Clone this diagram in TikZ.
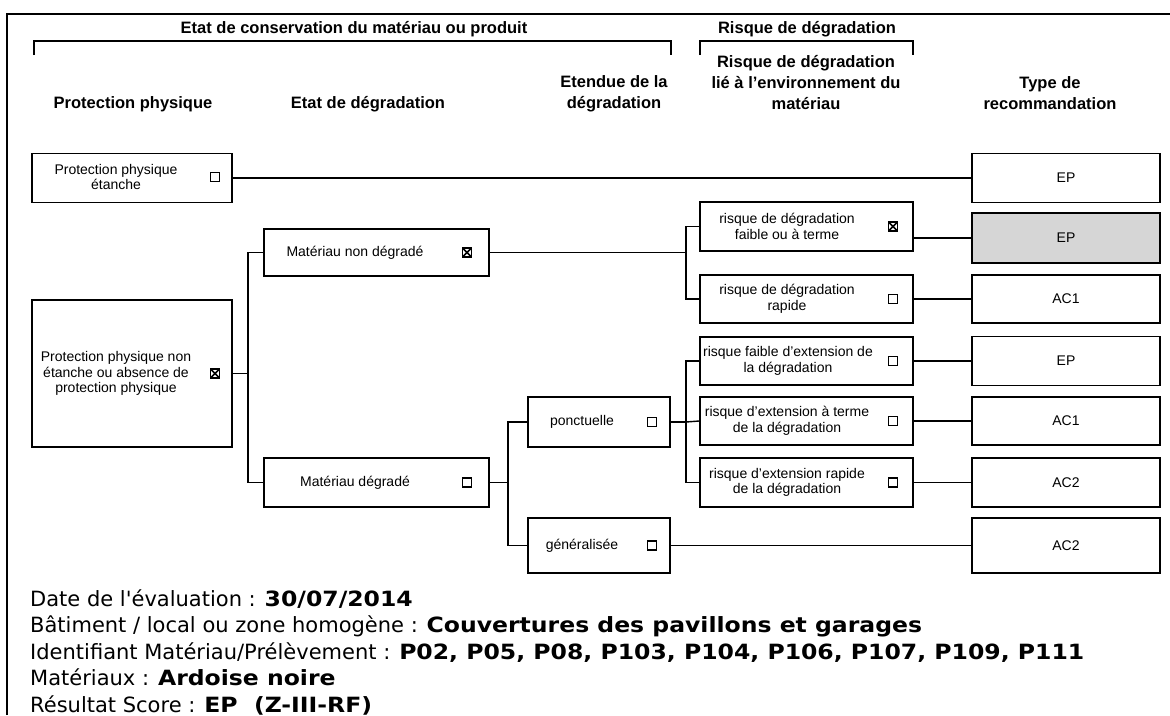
\documentclass[tikz,border=0pt]{standalone}
\usepackage{fontspec}
\setmainfont{Liberation Sans}
\newfontfamily\botfont{DejaVu Sans}[BoldFeatures={FakeStretch=1.12}]
\begin{document}
\begin{tikzpicture}[x=1pt,y=-1pt,
  box/.style={draw, line width=1.5pt, inner sep=0pt},
  txt/.style={font=\fontsize{14}{15.5}\selectfont, align=center, inner sep=0pt},
  hdr/.style={font=\fontsize{16.5}{21}\selectfont\bfseries, align=center, inner sep=0pt},
  chk/.style={draw, line width=1.3pt, minimum size=9pt, inner sep=0pt},
  chkx/.style={chk, path picture={\draw[line width=1.6pt]
      (path picture bounding box.north west) -- (path picture bounding box.south east)
      (path picture bounding box.north east) -- (path picture bounding box.south west);}},
  link/.style={line width=1.4pt},
  brk/.style={line width=1.4pt},
  bot/.style={anchor=base west, inner sep=0pt, font=\botfont\fontsize{21}{24}\selectfont}
]
\useasboundingbox (0,0) rectangle (1170,715);
% frame
\draw[line width=2pt] (7,715) -- (7,14) -- (1170,14);

% group titles and brackets
\node[hdr] (G1) at (354,29) {Etat de conservation du matériau ou produit};
\node[hdr] (G2) at (807,29) {Risque de dégradation};
\draw[brk] (34,55) -- (34,41) -- (671,41) -- (671,55);
\draw[brk] (700,55) -- (700,41) -- (913,41) -- (913,55);

% column headers
\node[hdr] (H1) at (133,104) {Protection physique};
\node[hdr] (H2) at (368,104) {Etat de dégradation};
\node[hdr] (H3) at (614,93.5) {Etendue de la\\dégradation};
\node[hdr] (H4) at (806,83) {Risque de dégradation\\lié à l'environnement du\\matériau};
\node[hdr] (H5) at (1050,93.5) {Type de\\recommandation};

% column 1
\node[box, minimum width=200pt, minimum height=49pt] (PPE) at (132,178) {};
\node[txt] (PPEt) at (116,177) {Protection physique\\étanche};
\node[chk] (PPEc) at (215,177) {};

\node[box, minimum width=200pt, minimum height=147pt] (PPNE) at (132,373.5) {};
\node[txt] (PPNEt) at (116,373.5) {Protection physique non\\étanche ou absence de\\protection physique};
\node[chkx] (PPNEc) at (215,373.5) {};

% column 2
\node[box, minimum width=225pt, minimum height=47pt] (MND) at (376.5,252.5) {};
\node[txt] (MNDt) at (355,252.5) {Matériau non dégradé};
\node[chkx] (MNDc) at (467,252.5) {};

\node[box, minimum width=225pt, minimum height=49pt] (MD) at (376.5,482.5) {};
\node[txt] (MDt) at (355,482.5) {Matériau dégradé};
\node[chk] (MDc) at (467,482.5) {};

% column 3
\node[box, minimum width=142pt, minimum height=50pt] (PON) at (599,422) {};
\node[txt] (PONt) at (582,422) {ponctuelle};
\node[chk] (PONc) at (652,422) {};

\node[box, minimum width=142pt, minimum height=55pt] (GEN) at (599,545.5) {};
\node[txt] (GENt) at (582,545.5) {généralisée};
\node[chk] (GENc) at (652,545.5) {};

% column 4
\node[box, minimum width=213pt, minimum height=49pt] (R1) at (806.5,226.5) {};
\node[txt] (R1t) at (787,226.5) {risque de dégradation\\faible ou à terme};
\node[chkx] (R1c) at (893,226.5) {};

\node[box, minimum width=213pt, minimum height=48pt] (R2) at (806.5,299) {};
\node[txt] (R2t) at (787,299) {risque de dégradation\\rapide};
\node[chk] (R2c) at (893,299) {};

\node[box, minimum width=213pt, minimum height=48pt] (R3) at (806.5,361) {};
\node[txt] (R3t) at (788,361) {risque faible d'extension de\\la dégradation};
\node[chk] (R3c) at (893,361) {};

\node[box, minimum width=213pt, minimum height=48pt] (R4) at (806.5,421) {};
\node[txt] (R4t) at (787,421) {risque d'extension à terme\\de la dégradation};
\node[chk] (R4c) at (893,421) {};

\node[box, minimum width=213pt, minimum height=49pt] (R5) at (806.5,482.5) {};
\node[txt] (R5t) at (787,482.5) {risque d'extension rapide\\de la dégradation};
\node[chk] (R5c) at (893,482.5) {};

% column 5
\node[box, minimum width=188pt, minimum height=49pt] (T1) at (1066,178) {};
\node[txt] (T1t) at (1066,178) {EP};
\node[box, fill=black!16, minimum width=188pt, minimum height=50pt] (T2) at (1066,238) {};
\node[txt] (T2t) at (1066,238) {EP};
\node[box, minimum width=188pt, minimum height=48pt] (T3) at (1066,299) {};
\node[txt] (T3t) at (1066,299) {AC1};
\node[box, minimum width=188pt, minimum height=49pt] (T4) at (1066,361) {};
\node[txt] (T4t) at (1066,361) {EP};
\node[box, minimum width=188pt, minimum height=48pt] (T5) at (1066,421) {};
\node[txt] (T5t) at (1066,421) {AC1};
\node[box, minimum width=188pt, minimum height=49pt] (T6) at (1066,482.5) {};
\node[txt] (T6t) at (1066,482.5) {AC2};
\node[box, minimum width=188pt, minimum height=55pt] (T7) at (1066,545.5) {};
\node[txt] (T7t) at (1066,545.5) {AC2};

% junctions
\coordinate (J1) at (248,373.5);
\coordinate (J2) at (686,252.5);
\coordinate (J3) at (508,482.5);
\coordinate (J4) at (686,422);

% connectors
\draw[link] (PPE.east) -- (T1.west);
\draw[link] (PPNE.east) -- (J1);
\draw[link] (MND.west) -| (J1) |- (MD.west);
\draw[link] (MND.east) -- (J2);
\draw[link] (R1.west) -| (J2) |- (R2.west);
\draw[link] (MD.east) -- (J3);
\draw[link] (PON.west) -| (J3) |- (GEN.west);
\draw[link] (PON.east) -- (J4);
\draw[link] (R3.west) -| (J4) |- (R5.west);
\draw[link] (J4) -- (R4.west);
\draw[link] (R1.east |- T2.west) -- (T2.west);
\draw[link] (R2.east) -- (T3.west);
\draw[link] (R3.east) -- (T4.west);
\draw[link] (R4.east) -- (T5.west);
\draw[link] (R5.east) -- (T6.west);
\draw[link] (GEN.east) -- (T7.west);

% bottom text
\node[bot] (B1) at (30,606) {Date de l'évaluation : \textbf{30/07/2014}};
\node[bot] (B2) at (30,632.5) {Bâtiment / local ou zone homogène : \textbf{Couvertures des pavillons et garages}};
\node[bot] (B3) at (30,659) {Identifiant Matériau/Prélèvement : \textbf{P02, P05, P08, P103, P104, P106, P107, P109, P111}};
\node[bot] (B4) at (30,685.5) {Matériaux : \textbf{Ardoise noire}};
\node[bot] (B5) at (30,712) {Résultat Score : \textbf{EP\ \ (Z-III-RF)}};
\end{tikzpicture}
\end{document}
